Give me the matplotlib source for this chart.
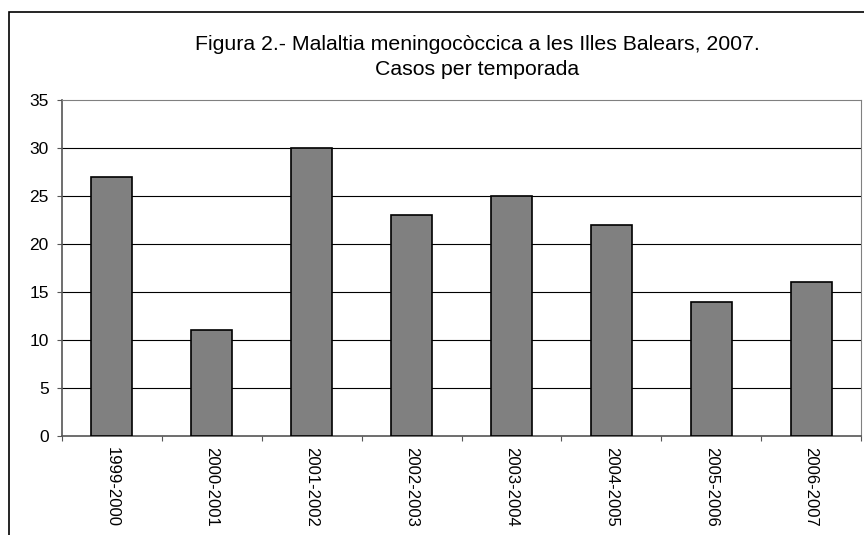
import numpy as np
import matplotlib.pyplot as plt
from matplotlib.patches import Rectangle

plt.rcParams['font.family'] = ['Liberation Sans', 'DejaVu Sans']

seasons = ["1999-2000", "2000-2001", "2001-2002", "2002-2003",
           "2003-2004", "2004-2005", "2005-2006", "2006-2007"]
cases = [27, 11, 30, 23, 25, 22, 14, 16]
yticks = [0, 5, 10, 15, 20, 25, 30, 35]

W, H = 864, 535
fig = plt.figure(figsize=(W / 100, H / 100), dpi=100)

# outer chart frame (cut off at right and bottom in the original)
fig.patches.append(Rectangle((9 / W, -0.1), 2, 1 - 12 / H + 0.1,
                             transform=fig.transFigure, fill=False,
                             edgecolor='black', linewidth=1.2))

ax = fig.add_axes([62 / W, 1 - 436 / H, (861 - 62) / W, (436 - 100) / H])

x = np.arange(len(seasons))
ax.bar(x, cases, width=0.41, color='#808080', edgecolor='black',
       linewidth=1.2, zorder=3)

ax.set_xlim(-0.5, len(seasons) - 0.5)
ax.set_ylim(0, 35)
ax.set_yticks(yticks)
ax.set_yticklabels([str(v) for v in yticks], fontsize=12.5)
for v in yticks[1:-1]:
    ax.axhline(v, color='black', linewidth=0.8, zorder=1)

# category ticks sit between bars, labels centred under bars
ax.set_xticks(np.arange(len(seasons) + 1) - 0.5)
ax.set_xticklabels([])
ax.set_xticks(x, minor=True)
ax.set_xticklabels(seasons, minor=True, rotation=-90, fontsize=12)
ax.tick_params(axis='x', which='minor', length=0, pad=8)
ax.tick_params(axis='x', which='major', length=3.6, direction='out', color='#555555')
ax.tick_params(axis='y', length=3.6, direction='out', color='#555555', pad=6)

for s in ['top', 'right']:
    ax.spines[s].set_color('#808080')
for s in ['left', 'bottom']:
    ax.spines[s].set_color('#555555')
    ax.spines[s].set_linewidth(1.2)

fig.text(477.5 / W, 1 - 57 / H, "Figura 2.- Malaltia meningocòccica a les Illes Balears, 2007.\nCasos per temporada",
         ha='center', va='center', fontsize=15.3, linespacing=1.35)

fig.savefig('out.png', dpi=100)
